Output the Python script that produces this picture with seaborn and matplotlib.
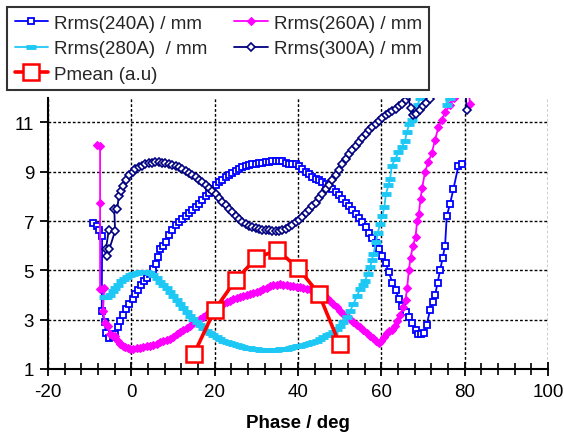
import matplotlib
matplotlib.use("Agg")
import matplotlib.pyplot as plt
import matplotlib.ticker as ticker
import seaborn as sns
import pandas as pd

# Rrms(240A) / mm
phase_240 = [-9.1, -8.3, -7.7, -7.0, -7.1, -6.4, -6.1, -5.3, -4.5, -3.8, -3.2, -2.6, -1.9, -1.2, -0.5,
             0.3, 1.0, 1.7, 2.4, 3.1, 3.8, 4.5, 5.2, 5.9, 6.5, 7.0, 7.7, 8.4, 9.1, 9.8, 10.6, 11.4,
             12.2, 13.0, 13.8, 14.6, 15.4, 16.2, 17.0, 17.8, 18.6, 19.4, 20.2, 21.0, 21.8, 22.6, 23.4,
             24.2, 25.0, 25.8, 26.6, 27.4, 28.2, 29.0, 29.8, 30.6, 31.4, 32.2, 33.0, 33.8, 34.6, 35.4,
             36.2, 37.0, 37.8, 38.6, 39.4, 40.2, 41.0, 41.8, 42.6, 43.4, 44.2, 45.0, 45.8, 46.6, 47.4,
             48.2, 49.0, 49.8, 50.6, 51.4, 52.2, 53.0, 53.8, 54.6, 55.4, 56.2, 57.0, 57.8, 58.6, 59.4,
             60.2, 61.0, 61.8, 62.6, 63.4, 64.2, 65.0, 65.8, 66.6, 67.4, 68.2, 68.9, 69.6, 70.3, 70.9,
             71.7, 72.3, 72.9, 73.5, 74.1, 74.7, 75.3, 75.7, 76.5, 77.3, 78.5, 79.3]
r_240 = [6.9, 6.8, 6.65, 6.4, 3.35, 2.9, 2.45, 2.25, 2.3, 2.42, 2.7, 2.95, 3.2, 3.45, 3.65,
         3.85, 4.05, 4.2, 4.4, 4.55, 4.7, 4.85, 5.05, 5.25, 5.55, 5.85, 6.0, 6.15, 6.45, 6.65, 6.85, 6.98,
         7.1, 7.2, 7.32, 7.45, 7.58, 7.7, 7.85, 8.0, 8.15, 8.3, 8.45, 8.57, 8.67, 8.77, 8.86,
         8.95, 9.03, 9.1, 9.17, 9.22, 9.27, 9.3, 9.32, 9.34, 9.36, 9.38, 9.4, 9.43, 9.45, 9.45,
         9.42, 9.36, 9.3, 9.3, 9.3, 9.22, 9.12, 9.0, 8.9, 8.8, 8.72, 8.65, 8.58, 8.5, 8.4,
         8.3, 8.18, 8.05, 7.9, 7.75, 7.6, 7.45, 7.3, 7.12, 6.95, 6.75, 6.5, 6.3, 6.1, 5.85,
         5.6, 5.3, 4.95, 4.5, 4.2, 3.85, 3.55, 3.3, 3.1, 2.85, 2.6, 2.42, 2.4, 2.45, 2.8,
         3.4, 3.7, 4.0, 4.5, 5.0, 5.5, 6.0, 7.2, 7.7, 8.3, 9.24, 9.3]

# Rrms(260A) / mm
phase_260 = [-8.3, -7.5, -7.5, -7.5, -6.5, -6.8, -6.3, -5.5, -5.1, -4.3, -3.9, -3.3, -2.7, -2.1, -1.5,
             -0.9, -0.3, 0.5, 1.3, 2.1, 2.9, 3.7, 4.5, 5.3, 6.1, 6.9, 7.7, 8.5, 9.3, 10.1, 10.9, 11.7,
             12.5, 13.3, 14.1, 14.9, 15.7, 16.5, 17.3, 18.1, 18.9, 19.7, 20.5, 21.3, 22.1, 22.9, 23.7,
             24.5, 25.3, 26.1, 26.9, 27.7, 28.5, 29.3, 30.1, 30.9, 31.7, 32.5, 33.3, 34.1, 34.9, 35.7,
             36.5, 37.3, 38.1, 38.9, 39.7, 40.5, 41.3, 42.1, 42.9, 43.7, 44.5, 45.3, 46.1, 46.9, 47.7,
             48.5, 49.3, 50.1, 50.9, 51.7, 52.5, 53.3, 54.1, 54.9, 55.7, 56.5, 57.3, 58.1, 58.8, 59.4,
             60.0, 60.6, 61.3, 61.9, 62.5, 63.2, 63.8, 64.5, 65.2, 65.8, 66.2, 66.6, 67.0, 67.6, 68.2,
             68.6, 69.0, 69.4, 69.8, 70.5, 71.3, 72.1, 72.9, 73.7, 74.5, 75.3, 76.5, 77.5, 78.3, 80.5,
             81.3]
r_260 = [10.1, 10.05, 7.75, 4.25, 4.3, 3.35, 2.85, 2.75, 2.42, 2.35, 2.35, 2.15, 2.0, 1.92, 1.88,
         1.84, 1.81, 1.82, 1.85, 1.87, 1.9, 1.93, 1.95, 1.99, 2.03, 2.08, 2.12, 2.17, 2.22, 2.3, 2.4, 2.49,
         2.58, 2.67, 2.76, 2.85, 2.94, 3.03, 3.12, 3.21, 3.3, 3.39, 3.48, 3.57, 3.64, 3.71, 3.77,
         3.82, 3.86, 3.9, 3.95, 4.0, 4.04, 4.08, 4.13, 4.17, 4.23, 4.29, 4.35, 4.39, 4.42, 4.44,
         4.42, 4.4, 4.38, 4.36, 4.33, 4.31, 4.29, 4.26, 4.24, 4.18, 4.11, 4.04, 3.95, 3.86, 3.77,
         3.63, 3.5, 3.36, 3.25, 3.14, 3.03, 2.92, 2.8, 2.69, 2.58, 2.46, 2.35, 2.25, 2.15, 2.05,
         2.15, 2.28, 2.45, 2.55, 2.6, 2.75, 2.95, 3.2, 3.5, 3.8, 4.3, 5.0, 5.5, 6.0, 6.35,
         7.0, 7.3, 7.9, 8.35, 9.0, 9.4, 9.75, 10.3, 10.8, 11.1, 11.4, 11.7, 12.0, 12.4, 13.0,
         11.75]

# Rrms(280A) / mm
phase_280 = [-6.6, -5.9, -5.2, -4.5, -3.8, -3.1, -2.4, -1.7, -1.0, -0.3, 0.5, 1.3, 2.1, 2.9, 3.7,
             4.5, 5.3, 6.1, 6.9, 7.7, 8.5, 9.3, 10.1, 10.9, 11.7, 12.5, 13.3, 14.1, 14.9, 15.7, 16.5,
             17.3, 18.1, 18.9, 19.7, 20.5, 21.3, 22.1, 22.9, 23.7, 24.5, 25.3, 26.1, 26.9, 27.7, 28.5,
             29.3, 30.1, 30.9, 31.7, 32.5, 33.3, 34.1, 34.9, 35.7, 36.5, 37.3, 38.1, 38.9, 39.7, 40.5,
             41.3, 42.1, 42.9, 43.7, 44.5, 45.3, 46.1, 46.9, 47.7, 48.5, 49.3, 50.1, 50.9, 51.7, 52.5,
             53.3, 54.1, 54.9, 55.5, 56.1, 56.7, 57.3, 57.7, 58.1, 58.7, 59.1, 59.7, 60.2, 60.7, 61.1,
             61.7, 62.1, 62.5, 63.3, 64.1, 64.9, 65.7, 66.1, 66.7, 67.3, 68.1, 68.7, 69.3, 70.0, 75.3,
             75.7, 76.5, 77.3, 78.5]
r_280 = [3.9, 3.92, 4.0, 4.15, 4.28, 4.42, 4.55, 4.65, 4.72, 4.8, 4.85, 4.9, 4.93, 4.94, 4.93,
         4.9, 4.83, 4.68, 4.52, 4.4, 4.28, 4.12, 3.97, 3.8, 3.63, 3.46, 3.3, 3.16, 3.03, 2.9, 2.77,
         2.66, 2.55, 2.45, 2.36, 2.28, 2.2, 2.14, 2.08, 2.04, 2.0, 1.96, 1.93, 1.9, 1.87, 1.84,
         1.82, 1.8, 1.79, 1.78, 1.78, 1.78, 1.78, 1.79, 1.8, 1.82, 1.83, 1.85, 1.88, 1.92, 1.95,
         1.99, 2.03, 2.06, 2.1, 2.15, 2.22, 2.3, 2.37, 2.43, 2.5, 2.62, 2.75, 2.89, 3.1, 3.35,
         3.63, 3.95, 4.24, 4.4, 4.58, 4.85, 5.12, 5.4, 5.66, 6.13, 6.5, 6.88, 7.2, 7.55, 8.1,
         8.45, 8.7, 9.24, 9.5, 9.78, 10.0, 10.26, 10.6, 10.93, 11.1, 11.4, 11.7, 12.0, 12.4, 12.6,
         11.7, 12.0, 12.3, 12.6]

# Rrms(300A) / mm
phase_300 = [-5.4, -6.1, -5.9, -5.3, -3.9, -4.1, -3.4, -3.0, -2.4, -1.9, -1.2, -0.5, 0.3, 1.0, 1.8,
             2.6, 3.4, 4.2, 5.0, 5.8, 6.6, 7.4, 8.2, 9.0, 9.8, 10.6, 11.4, 12.2, 13.0, 13.8, 14.6,
             15.4, 16.2, 17.0, 17.8, 18.6, 19.4, 20.2, 21.0, 21.8, 22.6, 23.4, 24.2, 25.0, 25.8, 26.6,
             27.4, 28.2, 29.0, 29.8, 30.6, 31.4, 32.2, 33.0, 33.8, 34.6, 35.4, 36.2, 37.0, 37.8, 38.6,
             39.4, 40.2, 41.0, 41.8, 42.6, 43.4, 44.2, 45.0, 45.8, 46.6, 47.4, 48.2, 49.0, 49.8, 50.6,
             51.4, 52.2, 53.0, 53.8, 54.6, 55.4, 56.2, 57.0, 57.8, 58.6, 59.4, 60.2, 61.0, 61.8, 62.6,
             63.4, 64.2, 65.0, 65.8, 66.4, 67.0, 67.6, 68.4, 69.2, 70.0, 70.8, 71.6, 72.4, 73.0, 79.9,
             80.5]
r_300 = [6.65, 5.85, 5.6, 5.85, 6.6, 7.5, 7.5, 8.0, 8.2, 8.4, 8.65, 8.85, 9.0, 9.1, 9.2,
         9.25, 9.3, 9.35, 9.37, 9.38, 9.38, 9.37, 9.35, 9.32, 9.28, 9.24, 9.18, 9.1, 9.04, 8.96, 8.87,
         8.78, 8.68, 8.57, 8.45, 8.33, 8.2, 8.08, 7.92, 7.78, 7.64, 7.5, 7.36, 7.22, 7.1, 6.98,
         6.88, 6.8, 6.74, 6.7, 6.67, 6.65, 6.64, 6.62, 6.6, 6.6, 6.6, 6.62, 6.68, 6.75, 6.84,
         6.94, 7.05, 7.18, 7.32, 7.46, 7.6, 7.75, 7.92, 8.1, 8.28, 8.46, 8.66, 8.86, 9.08, 9.3,
         9.5, 9.7, 9.88, 10.05, 10.22, 10.38, 10.53, 10.68, 10.82, 10.95, 11.07, 11.18, 11.28, 11.36, 11.45,
         11.55, 11.65, 11.75, 11.9, 12.05, 11.6, 11.3, 11.35, 11.5, 11.65, 11.8, 11.95, 12.2, 12.6, 13.0,
         11.5]

# Pmean (a.u)
phase_p = [15, 20, 25, 30, 35, 40, 45, 50]
p_mean = [1.6, 3.4, 4.6, 5.5, 5.82, 5.1, 4.05, 2.0]

series = [
    ("Rrms(240A) / mm", phase_240, r_240,
     dict(color="#0000FF", marker="s", markersize=5, markeredgewidth=1.3,
          markerfacecolor="white", markeredgecolor="#0000FF", linewidth=1.3)),
    ("Rrms(260A) / mm", phase_260, r_260,
     dict(color="#FF00FF", marker="D", markersize=4, markeredgewidth=0.8,
          markerfacecolor="#FF00FF", markeredgecolor="#FF00FF", linewidth=1.3)),
    ("Rrms(280A)  / mm", phase_280, r_280,
     dict(color="#1EC8F5", marker="_", markersize=7, markeredgewidth=3.5,
          markeredgecolor="#1EC8F5", linewidth=1.3)),
    ("Rrms(300A) / mm", phase_300, r_300,
     dict(color="#000080", marker="D", markersize=4.5, markeredgewidth=1.2,
          markerfacecolor="white", markeredgecolor="#000080", linewidth=1.3)),
    ("Pmean (a.u)", phase_p, p_mean,
     dict(color="#FF0000", marker="s", markersize=11, markeredgewidth=1.8,
          markerfacecolor="white", markeredgecolor="#FF0000", linewidth=2.6)),
]

sns.set_theme(style="white")
plt.rcParams['font.family'] = ['Liberation Sans', 'DejaVu Sans']
plt.rcParams['axes.unicode_minus'] = False

fig = plt.figure(figsize=(5.64, 4.35), dpi=100)
ax = fig.add_axes([48 / 564, 65 / 435, 500 / 564, 271.3 / 435])

handles = {}
for label, xs, ys, style in series:
    df = pd.DataFrame({"Phase": xs, "R": ys})
    sns.lineplot(data=df, x="Phase", y="R", sort=False, estimator=None,
                 ax=ax, label=label, **style)
    handles[label] = ax.get_lines()[-1]

ax.set_xlim(-20, 100)
ax.set_ylim(1, 12)
ax.set_xticks(range(-20, 101, 20))
ax.xaxis.set_minor_locator(ticker.MultipleLocator(4))
ax.set_yticks([1, 3, 5, 7, 9, 11])

ax.grid(True, which='major', color='black', linestyle=(0, (2, 1.5)), linewidth=1.0)
ax.set_axisbelow(True)

for side in ["top", "right"]:
    ax.spines[side].set_visible(False)
for side in ["left", "bottom"]:
    ax.spines[side].set_color("black")
    ax.spines[side].set_linewidth(1.5)

ax.tick_params(axis='x', which='major', direction='inout', length=10, width=1.3,
               color='black', labelsize=13.5, pad=5, bottom=True)
ax.tick_params(axis='x', which='minor', direction='inout', length=8, width=1.2,
               color='black', bottom=True)
ax.tick_params(axis='y', which='major', direction='out', length=6, width=1.3,
               color='black', labelsize=13.5, pad=4, left=True)
for lbl in ax.get_xticklabels() + ax.get_yticklabels():
    lbl.set_color('black')

ax.set_xlabel("Phase / deg", fontsize=13.5, fontweight='bold', color='black', labelpad=10)
ax.set_ylabel("")

order = ["Rrms(240A) / mm", "Rrms(280A)  / mm", "Pmean (a.u)",
         "Rrms(260A) / mm", "Rrms(300A) / mm"]
leg = ax.legend([handles[k] for k in order], order, ncol=2, loc='upper left',
                bbox_to_anchor=(7 / 564, 1 - 8 / 435), bbox_transform=fig.transFigure,
                frameon=True, fancybox=False, edgecolor='black', fontsize=13.5,
                handlelength=1.8, handletextpad=0.3, columnspacing=1.45,
                labelspacing=0.45, borderpad=0.4, borderaxespad=0)
leg.get_frame().set_linewidth(1.5)
leg.set_zorder(10)

fig.savefig("out.png", dpi=100)
plt.close(fig)
